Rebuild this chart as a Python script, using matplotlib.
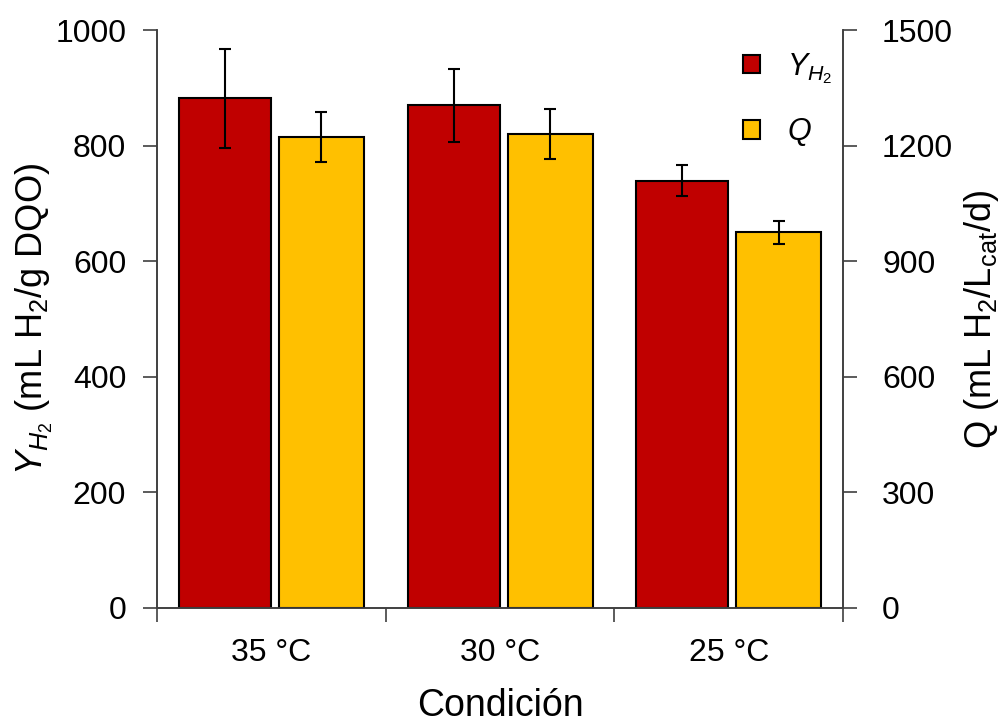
import matplotlib
matplotlib.use("Agg")
import matplotlib.pyplot as plt
import numpy as np
from matplotlib.patches import Patch

plt.rcParams['font.family'] = ['Liberation Sans', 'DejaVu Sans']
plt.rcParams['mathtext.fontset'] = 'custom'
plt.rcParams['mathtext.rm'] = 'Liberation Sans'
plt.rcParams['mathtext.it'] = 'Liberation Sans:italic'
plt.rcParams['mathtext.bf'] = 'Liberation Sans:bold'

categories = ["35 °C", "30 °C", "25 °C"]
yh2 = [882, 870, 740]
yh2_err = [85, 63, 27]
q = [1223, 1230, 975]
q_err = [65, 65, 31]

red = "#C00000"
gold = "#FFC000"
spine_c = "#404040"

fig = plt.figure(figsize=(10.05, 7.22), dpi=100)
ax = fig.add_axes([0.156, 0.158, 0.683, 0.800])
ax2 = ax.twinx()

x = np.arange(len(categories)) + 0.5
ax.bar(x - 0.203, yh2, width=0.402, color=red, edgecolor='black', linewidth=1.5, zorder=2)
ax.errorbar(x - 0.203, yh2, yerr=yh2_err, fmt='none', ecolor='black', elinewidth=1.5,
            capsize=4.3, capthick=1.5, zorder=3)
ax2.bar(x + 0.219, q, width=0.372, color=gold, edgecolor='black', linewidth=1.5, zorder=2)
ax2.errorbar(x + 0.219, q, yerr=q_err, fmt='none', ecolor='black', elinewidth=1.5,
             capsize=4.3, capthick=1.5, zorder=3)

ax.set_xlim(0, 3)
ax.set_ylim(0, 1000)
ax2.set_ylim(0, 1500)
ax.set_yticks(np.arange(0, 1001, 200))
ax2.set_yticks(np.arange(0, 1501, 300))

ax.set_xticks([0, 1, 2, 3])
ax.set_xticklabels([])
ax.set_xticks(x, minor=True)
ax.set_xticklabels(categories, minor=True)
ax.tick_params(axis='x', which='major', length=10, width=1.2, color=spine_c, direction='out')
ax.tick_params(axis='x', which='minor', length=0, labelsize=23, pad=22)
ax.tick_params(axis='y', length=10, width=1.2, color=spine_c, labelsize=23, direction='out', pad=12)
ax2.tick_params(axis='y', length=10, width=1.2, color=spine_c, labelsize=23, direction='out', pad=18)

for a in (ax, ax2):
    a.spines['top'].set_visible(False)
    for s in ('left', 'right', 'bottom'):
        a.spines[s].set_color(spine_c)
        a.spines[s].set_linewidth(1.2)

ax.set_xlabel("Condición", fontsize=27, labelpad=14)
ax.set_ylabel("$Y_{H_2}$ (mL H$_2$/g DQO)", fontsize=26, labelpad=0)
ax2.set_ylabel("Q (mL H$_2$/L$_{\\mathrm{cat}}$/d)", fontsize=26, labelpad=6)

handles = [Patch(facecolor=red, edgecolor='black', linewidth=1.5),
           Patch(facecolor=gold, edgecolor='black', linewidth=1.5)]
leg = ax2.legend(handles, ["$Y_{H_2}$", "$Q$"], loc='upper right', bbox_to_anchor=(1.025, 1.012),
                 frameon=False, fontsize=22, handlelength=0.55, handleheight=0.55,
                 labelspacing=1.0, handletextpad=0.9)

fig.savefig("out.png", dpi=100)
